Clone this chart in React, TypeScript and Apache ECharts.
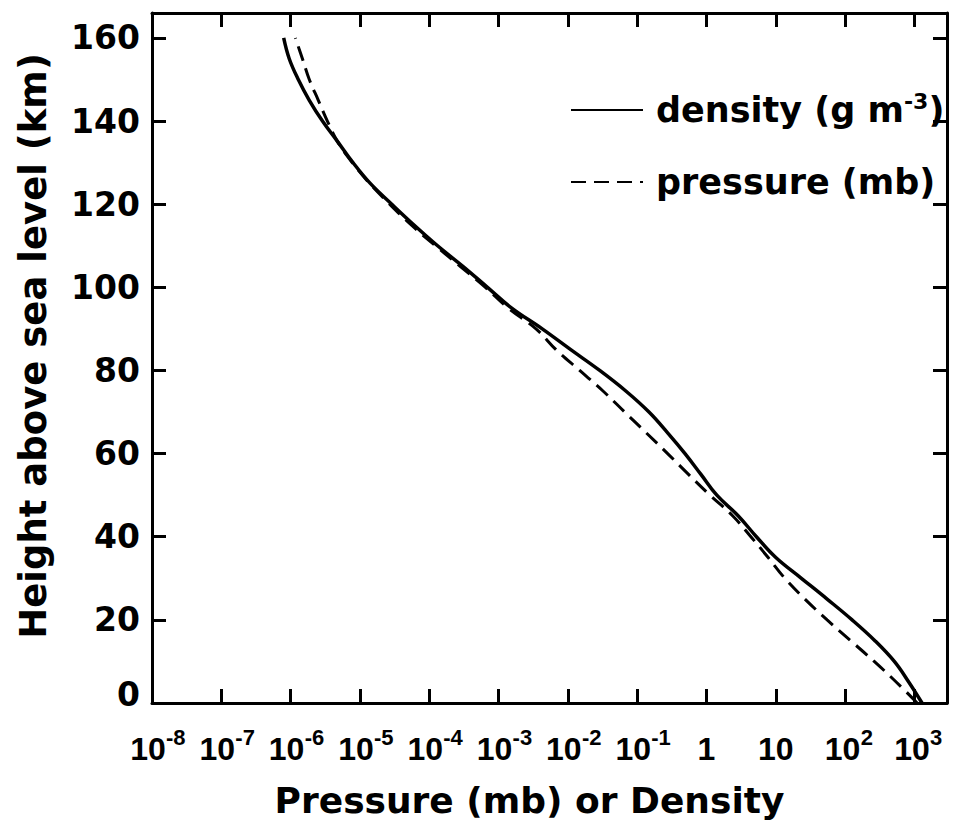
import React, { useEffect, useRef } from 'react';
import * as echarts from 'echarts';

// Height above sea level (km)
const heights = [
  0, 5, 10, 15, 20, 25, 30, 35, 40, 45, 50, 55, 60, 65, 70, 75, 80,
  85, 90, 95, 100, 105, 110, 115, 120, 125, 130, 135, 140, 145, 150, 155, 160,
];

// Density (g m^-3)
const density = [
  1288, 832, 513, 269, 126, 55, 23.4, 10.0, 5.25, 2.88, 1.41, 0.832, 0.49,
  0.275, 0.148, 0.0692, 0.0288, 0.011, 0.00427, 0.00155, 6.92e-4, 3.09e-4,
  1.32e-4, 6.03e-5, 2.88e-5, 1.41e-5, 7.94e-6, 4.79e-6, 2.88e-6, 1.86e-6,
  1.29e-6, 9.55e-7, 7.94e-7,
];

// Pressure (mb)
const pressure = [
  1096, 550, 263, 120, 55, 26.3, 13.5, 7.76, 4.37, 2.4, 1.12, 0.55, 0.275,
  0.135, 0.066, 0.0324, 0.0148, 0.00676, 0.00347, 0.00138, 6.46e-4, 2.82e-4,
  1.23e-4, 5.5e-5, 2.69e-5, 1.38e-5, 7.76e-6, 4.79e-6, 3.39e-6, 2.51e-6,
  1.86e-6, 1.48e-6, 1.17e-6,
];

// Tick labels
const xExponents = [-8, -7, -6, -5, -4, -3, -2, -1, 0, 1, 2, 3];
const yTicks = [0, 20, 40, 60, 80, 100, 120, 140, 160];

const seriesNames = ['density (g m-3)', 'pressure (mb)'];

const FONT = '"DejaVu Sans", sans-serif';
const XFONT = '"Liberation Sans Narrow", "Liberation Sans", sans-serif';
const X_MIN = -8;
const X_MAX = 3.47;
const Y_MAX = 166;

function xLabel(v: number): string {
  const e = Math.round(v);
  if (Math.abs(v - e) > 1e-6 || xExponents.indexOf(e) < 0) return '';
  if (e === 0) return '{b|1}';
  if (e === 1) return '{b|10}';
  if (e < 0) return `{pn| }{b|10}{sn|${e}}`;
  return `{pp| }{b|10}{sp|${e}}`;
}

function yLabel(v: number): string {
  if (yTicks.indexOf(v) < 0) return '';
  return v === 0 ? '{z|0}' : String(v);
}

export default function App() {
  const ref = useRef<HTMLDivElement>(null);

  useEffect(() => {
    if (!ref.current) return;
    const chart = echarts.init(ref.current, null, { renderer: 'svg' });
    const axisLine = { show: true, onZero: false, lineStyle: { color: '#000', width: 3 } };
    const axisTick = { show: true, inside: true, length: 14, lineStyle: { color: '#000', width: 3 } };
    const titleStyle = { fontFamily: FONT, fontWeight: 'bold' as const, fontSize: 36, color: '#000' };
    const supStyle = { fontFamily: XFONT, fontWeight: 'bold' as const, fontSize: 22, lineHeight: 22, verticalAlign: 'top' as const, color: '#000' };

    chart.setOption({
      animation: false,
      backgroundColor: '#fff',
      grid: { left: 152, right: 14, top: 13, bottom: 124, show: false, outerBoundsMode: 'none', containLabel: false },
      legend: {
        orient: 'vertical',
        left: 565,
        top: 85,
        itemWidth: 72,
        itemHeight: 24,
        itemGap: 32,
        selectedMode: false,
        data: seriesNames,
        itemStyle: { opacity: 0, color: 'rgba(0,0,0,0)', borderWidth: 0 },
        formatter: (name: string) => (name === seriesNames[0] ? 'density (g m{sup|-3})' : name),
        textStyle: {
          fontFamily: FONT,
          fontWeight: 'bold',
          fontSize: 35,
          color: '#000',
          lineHeight: 40,
          padding: [0, 0, 0, 8],
          rich: {
            sup: { fontFamily: FONT, fontWeight: 'bold', fontSize: 22, lineHeight: 22, verticalAlign: 'top', color: '#000' },
          },
        },
      },
      xAxis: [
        {
          type: 'value',
          min: X_MIN,
          max: X_MAX,
          interval: 1,
          position: 'bottom',
          axisLine,
          axisTick,
          splitLine: { show: false },
          axisLabel: {
            formatter: xLabel,
            margin: 23,
            color: '#000',
            fontFamily: XFONT,
            fontWeight: 'bold',
            fontSize: 32,
            showMinLabel: true,
            showMaxLabel: false,
            hideOverlap: false,
            rich: {
              b: { fontFamily: XFONT, fontWeight: 'bold', fontSize: 32, lineHeight: 46, color: '#000' },
              sn: { ...supStyle, width: 20 },
              sp: { ...supStyle, width: 13 },
              pn: { width: 12, fontSize: 20, lineHeight: 22 },
              pp: { width: 8, fontSize: 20, lineHeight: 22 },
            },
          },
          name: 'Pressure (mb) or Density',
          nameLocation: 'middle',
          nameGap: 79,
          nameTextStyle: { ...titleStyle, padding: [0, 40, 0, 0] },
        },
        {
          type: 'value',
          min: X_MIN,
          max: X_MAX,
          interval: 1,
          position: 'top',
          axisLine,
          axisTick,
          splitLine: { show: false },
          axisLabel: { show: false },
        },
      ],
      yAxis: [
        {
          type: 'value',
          min: 0,
          max: Y_MAX,
          interval: 20,
          position: 'left',
          axisLine,
          axisTick,
          splitLine: { show: false },
          axisLabel: {
            formatter: yLabel,
            margin: 12,
            color: '#000',
            fontFamily: FONT,
            fontWeight: 'bold',
            fontSize: 33,
            showMinLabel: true,
            showMaxLabel: false,
            rich: {
              z: { fontFamily: FONT, fontWeight: 'bold', fontSize: 33, color: '#000', padding: [0, 0, 18, 0] },
            },
          },
          name: 'Height above sea level (km)',
          nameLocation: 'middle',
          nameGap: 100,
          nameRotate: 90,
          nameTextStyle: { ...titleStyle, fontSize: 37, padding: [0, 0, 0, 24] },
        },
        {
          type: 'value',
          min: 0,
          max: Y_MAX,
          interval: 20,
          position: 'right',
          axisLine,
          axisTick,
          splitLine: { show: false },
          axisLabel: { show: false },
        },
      ],
      series: [
        {
          name: seriesNames[0],
          type: 'line',
          xAxisIndex: 0,
          yAxisIndex: 0,
          data: heights.map((h, i) => [Math.log10(density[i]), h]),
          smooth: 0.4,
          symbol: 'none',
          lineStyle: { color: '#000', width: 3.5 },
          itemStyle: { color: '#000' },
        },
        {
          name: seriesNames[1],
          type: 'line',
          xAxisIndex: 0,
          yAxisIndex: 0,
          data: heights.map((h, i) => [Math.log10(pressure[i]), h]),
          smooth: 0.4,
          symbol: 'none',
          lineStyle: { color: '#000', width: 3, type: [15, 8] },
          itemStyle: { color: '#000' },
        },
      ],
    });

    return () => chart.dispose();
  }, []);

  return (
    <div
      ref={ref}
      style={{ position: 'absolute', left: 0, top: 0, width: 961, height: 827, background: '#fff' }}
    />
  );
}
